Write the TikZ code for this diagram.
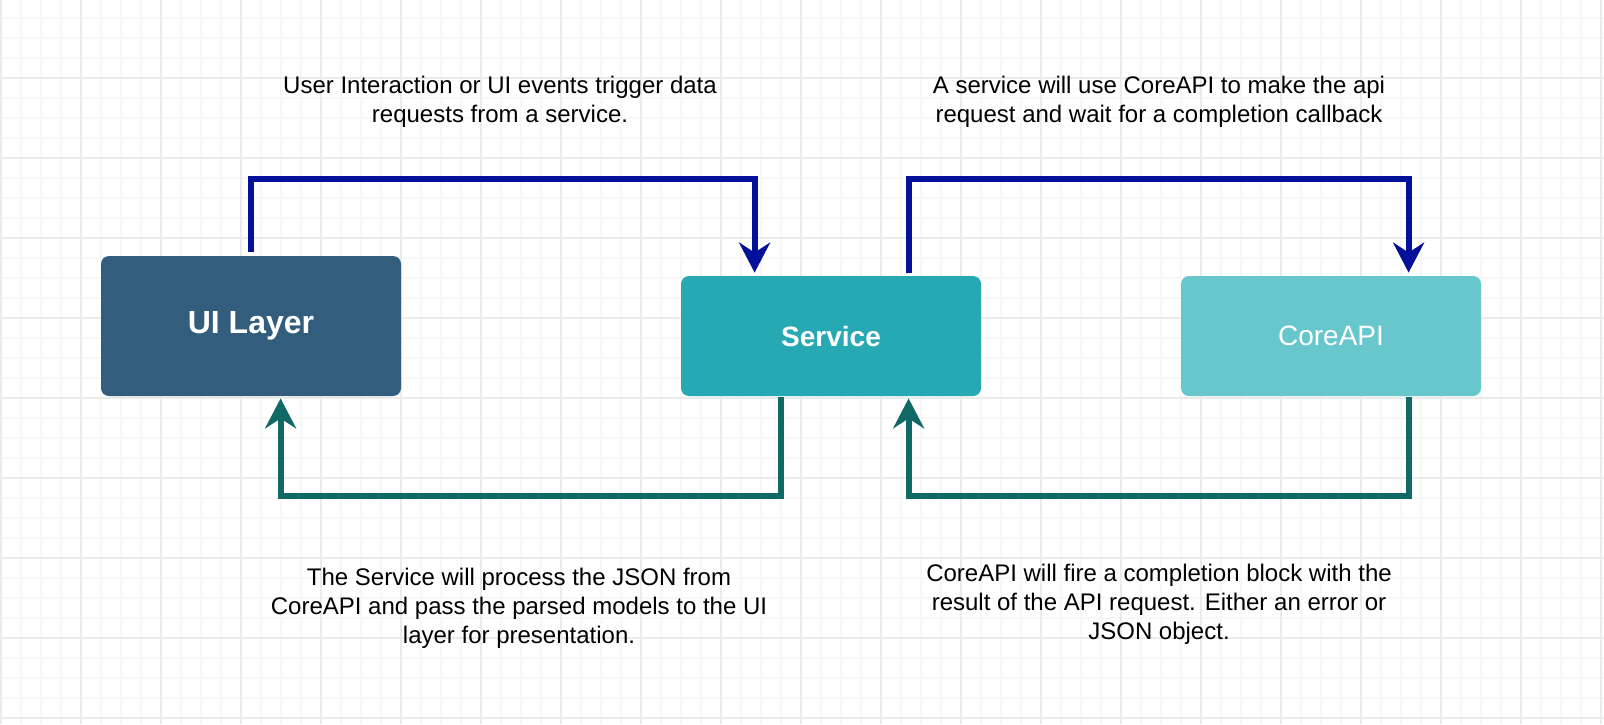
\documentclass[tikz,border=0pt]{standalone}
\usepackage{fontspec}
\setmainfont{Liberation Sans}
\usetikzlibrary{arrows.meta,calc}
\definecolor{uicol}{HTML}{335D7C}
\definecolor{svccol}{HTML}{27A9B4}
\definecolor{corecol}{HTML}{68C6CD}
\definecolor{arrowblue}{HTML}{03109A}
\definecolor{arrowteal}{HTML}{106966}
\definecolor{gridminor}{HTML}{F7F7F7}
\definecolor{gridmajor}{HTML}{EBEBEB}
\begin{document}
\begin{tikzpicture}[x=0.5pt,y=-0.5pt,
  box/.style={rounded corners=4pt, minimum width=150pt, minimum height=60pt, inner sep=0pt, text=white},
  bl/.style={draw=arrowblue, line width=3pt, -{Stealth[length=15pt,width=15.5pt,inset=5pt]}},
  tl/.style={draw=arrowteal, line width=3pt, -{Stealth[length=15pt,width=15.5pt,inset=5pt]}},
  txt/.style={align=center, inner sep=0pt, font=\fontsize{12pt}{14.5pt}\selectfont},
  minorline/.style={draw=gridminor, line width=1pt},
  majorline/.style={draw=gridmajor, line width=1pt}]
\useasboundingbox (0,0) rectangle (1604,724);
\fill[white] (0,0) rectangle (1604,724);
\begin{scope}
\clip (0,0) rectangle (1604,724);
\foreach \i in {0,...,80} {\draw[minorline] (20*\i+1,0) -- (20*\i+1,724);}
\foreach \j in {0,...,37} {\draw[minorline] (0,20*\j-2) -- (1604,20*\j-2);}
\foreach \i in {0,...,20} {\draw[majorline] (80*\i+1,0) -- (80*\i+1,724);}
\foreach \j in {0,...,9} {\draw[majorline] (0,80*\j-2) -- (1604,80*\j-2);}
\end{scope}

\node[box, fill=uicol, minimum height=70pt, font=\fontsize{16pt}{19pt}\selectfont\bfseries] (ui) at (251,326) {UI Layer};
\node[box, fill=svccol, font=\fontsize{14pt}{17pt}\selectfont\bfseries] (svc) at (831,336) {Service};
\node[box, fill=corecol, font=\fontsize{14pt}{17pt}\selectfont] (core) at (1331,336) {CoreAPI};

\draw[bl, shorten <=2pt, shorten >=1.5pt] (ui.north) -- ++(0,-77) -| ($(svc.north west)+(74,0)$);
\draw[bl, shorten <=1.5pt, shorten >=1.5pt] ($(svc.north west)+(228,0)$) -- ++(0,-97) -| ($(core.north west)+(228,0)$);
\draw[tl, shorten <=0.5pt, shorten >=1pt] ($(svc.south west)+(100,0)$) -- ++(0,100) -| ($(ui.south west)+(180,0)$);
\draw[tl, shorten <=0.5pt, shorten >=1pt] ($(core.south west)+(228,0)$) -- ++(0,100) -| ($(svc.south west)+(228,0)$);

\node[txt] (t1) at (500,101.75) {User Interaction or UI events trigger data\\requests from a service.};
\node[txt] (t2) at (1159,101.75) {A service will use CoreAPI to make the api\\request and wait for a completion callback};
\node[txt] (t3) at (519,608.75) {The Service will process the JSON from\\CoreAPI and pass the parsed models to the UI\\layer for presentation.};
\node[txt] (t4) at (1159,604.75) {CoreAPI will fire a completion block with the\\result of the API request. Either an error or\\JSON object.};
\end{tikzpicture}
\end{document}
